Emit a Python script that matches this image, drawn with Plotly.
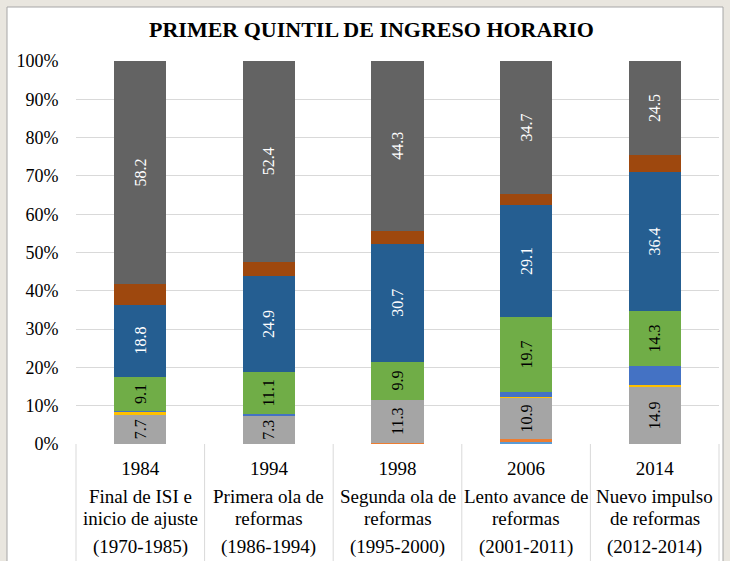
import plotly.graph_objects as go

categories = ["1984", "1994", "1998", "2006", "2014"]
periods = ["Final de ISI e<br>inicio de ajuste", "Primera ola de<br>reformas",
           "Segunda ola de<br>reformas", "Lento avance de<br>reformas",
           "Nuevo impulso<br>de reformas"]
ranges = ["(1970-1985)", "(1986-1994)", "(1995-2000)", "(2001-2011)", "(2012-2014)"]

# stacked series, bottom to top
s1 = [0.0, 0.0, 0.0, 0.6, 0.0]       # light blue
s2 = [0.0, 0.1, 0.3, 0.6, 0.0]       # orange
s3 = [7.7, 7.3, 11.3, 10.9, 14.9]    # gray (labelled)
s4 = [0.7, 0.1, 0.0, 0.2, 0.5]       # yellow
s5 = [0.1, 0.3, 0.0, 1.2, 5.0]       # blue
s6 = [9.1, 11.1, 9.9, 19.7, 14.3]    # green (labelled)
s7 = [18.8, 24.9, 30.7, 29.1, 36.4]  # dark blue (labelled)
s8 = [5.4, 3.8, 3.5, 3.0, 4.4]       # brown
s9 = [58.2, 52.4, 44.3, 34.7, 24.5]  # dark gray (labelled)

series = [
    (s1, "#5B9BD5", False, "black"),
    (s2, "#ED7D31", False, "black"),
    (s3, "#A5A5A5", True, "black"),
    (s4, "#FFC000", False, "black"),
    (s5, "#4472C4", False, "black"),
    (s6, "#70AD47", True, "black"),
    (s7, "#255E91", True, "white"),
    (s8, "#9E480E", False, "white"),
    (s9, "#636363", True, "white"),
]

SERIF = "Liberation Serif, Times New Roman, serif"
fig = go.Figure()
for vals, col, lab, tcol in series:
    fig.add_trace(go.Bar(
        x=categories, y=vals, marker=dict(color=col, line=dict(width=0)),
        text=[f"{v:.1f}" for v in vals] if lab else None,
        textposition="inside" if lab else "none",
        textangle=-90, insidetextanchor="middle",
        textfont=dict(family=SERIF, size=16, color=tcol),
        showlegend=False, hoverinfo="skip",
    ))

L, R, T, B = 76, 11, 61, 117
W, H = 730, 561
pw, ph = W - L - R, H - T - B

def px(xp):
    return (xp - L) / pw

def py(yp):
    return (H - B - yp) / ph

shapes = [dict(type="rect", xref="paper", yref="paper", layer="below",
               x0=px(7), x1=px(723), y0=py(600), y1=py(7),
               fillcolor="white", line=dict(color="#a6a6a6", width=1))]
for i in range(len(categories) + 1):
    shapes.append(dict(type="line", xref="paper", yref="paper",
                       x0=i / len(categories), x1=i / len(categories), y0=0, y1=py(561),
                       line=dict(color="#d9d9d9", width=1)))

annotations = [dict(text="<b>PRIMER QUINTIL DE INGRESO HORARIO</b>", xref="paper", yref="paper",
                    x=px(371), y=py(30), xanchor="center", yanchor="middle", showarrow=False,
                    font=dict(family=SERIF, size=22, color="black"))]
for i, (p, r) in enumerate(zip(periods, ranges)):
    for line, ypix in zip(p.split("<br>") + [r], [497, 518, 547]):
        annotations.append(dict(text=line, x=i, xref="x", yref="paper", y=py(ypix),
                                xanchor="center", yanchor="middle", showarrow=False,
                                font=dict(family=SERIF, size=19, color="black")))

fig.update_layout(
    width=W, height=H, margin=dict(l=L, r=R, t=T, b=B, pad=0),
    barmode="stack", bargap=0.595,
    paper_bgcolor="#e9e6df", plot_bgcolor="white",
    shapes=shapes, annotations=annotations,
    xaxis=dict(type="category", categoryorder="array", categoryarray=categories,
               range=[-0.5, len(categories) - 0.5], autorange=False,
               showgrid=False, zeroline=False, showline=False,
               ticks="outside", ticklen=7, tickcolor="rgba(0,0,0,0)",
               tickfont=dict(family=SERIF, size=19, color="black")),
    yaxis=dict(range=[0, 100], dtick=10, ticksuffix="%", gridcolor="#d9d9d9",
               zeroline=False, showline=False, ticks="outside", ticklen=13,
               tickcolor="rgba(0,0,0,0)",
               tickfont=dict(family=SERIF, size=18, color="black")),
)
fig.write_html("out.html", config={"displayModeBar": False},
               post_script="document.body.style.margin='0';")
